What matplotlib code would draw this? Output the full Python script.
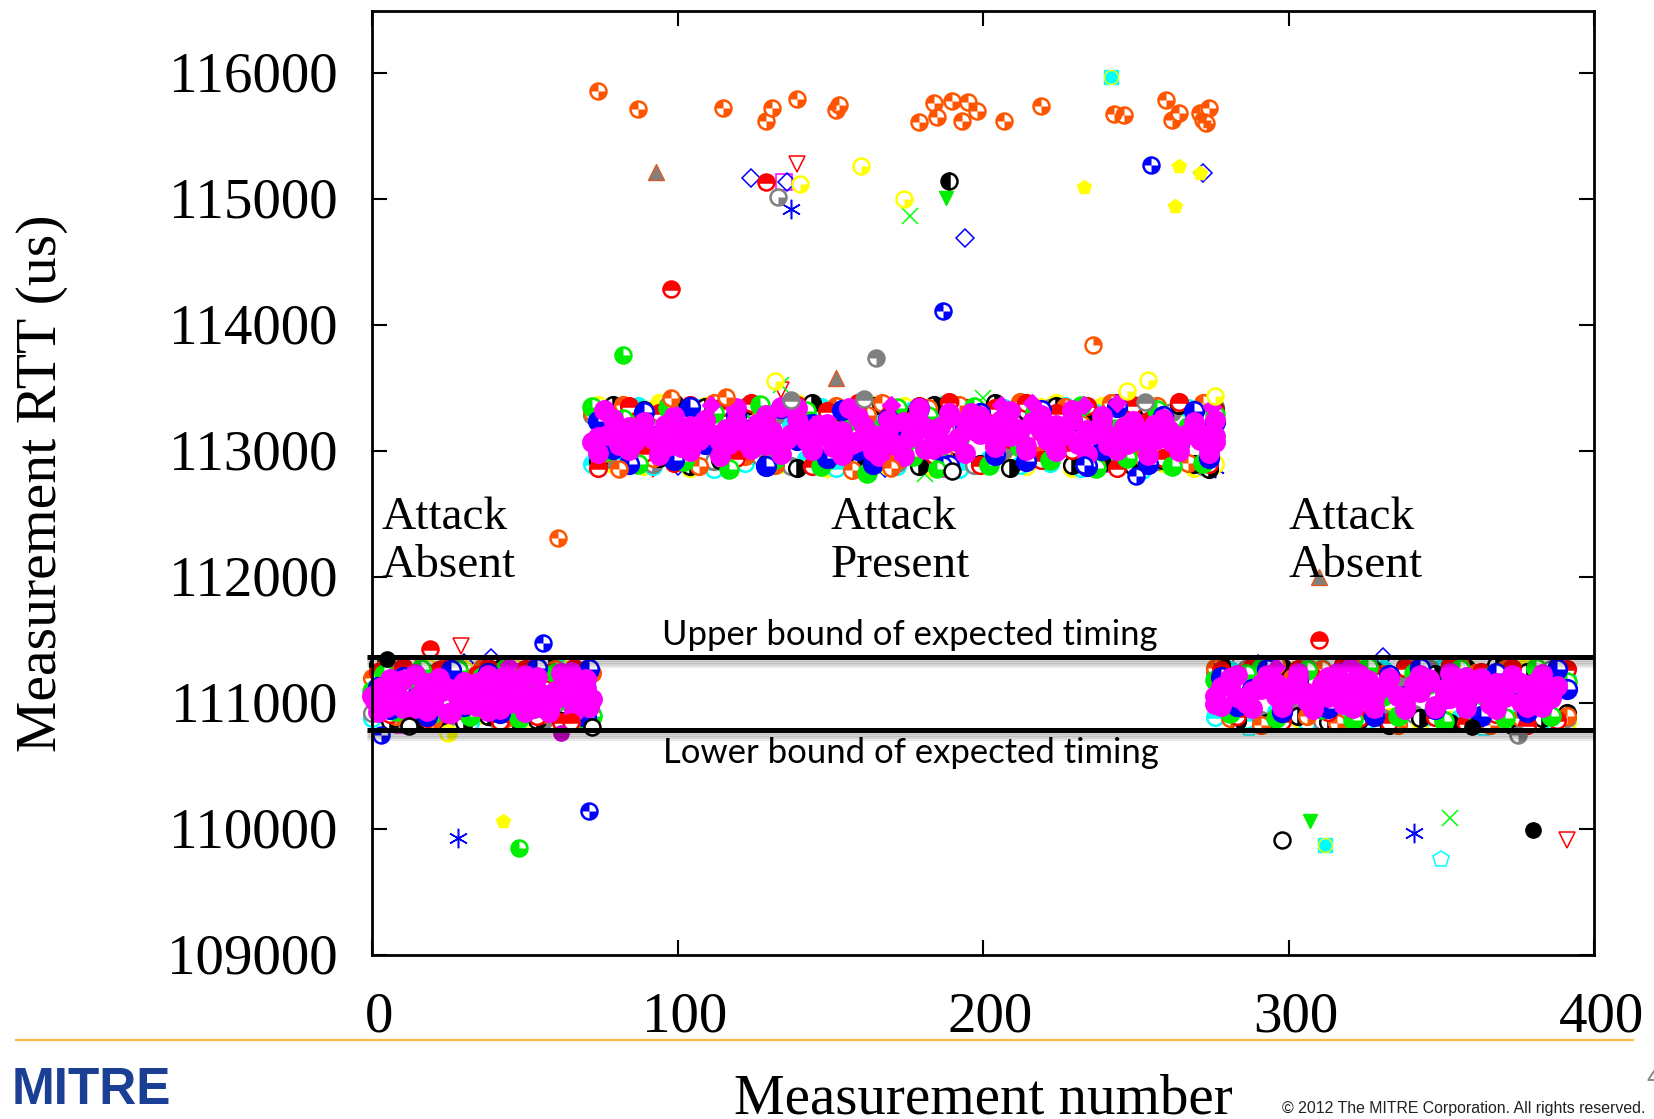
### Measurement RTT scatter, attack absent / present / absent
import matplotlib
matplotlib.use("Agg")
import matplotlib.pyplot as plt
import matplotlib.patheffects as pe
from matplotlib.path import Path
from matplotlib.transforms import ScaledTranslation

W, H = 1654, 1119

## axis labels
x_ticks = [0, 100, 200, 300, 400]
y_ticks = [109000, 110000, 111000, 112000, 113000, 114000, 115000, 116000]
upper_bound = 111368
lower_bound = 110790

## shared measurement numbers of the dense bands
x_a = [0, 4, 8, 12, 16, 20, 24, 28, 32, 36, 40, 44, 48, 52, 56, 60, 64, 68, 72,
       72, 77, 82, 87, 92, 97, 102, 107, 112, 117, 122, 127, 132, 137, 142, 147, 152, 157, 162, 167, 172,
       177, 182, 187, 192, 197, 202, 207, 212, 217, 222, 227, 232, 237, 242, 247, 252, 257, 262, 267, 272, 276,
       276, 281, 286, 291, 296, 301, 306, 311, 316, 321, 326, 331, 336, 341, 346, 351, 356, 361, 366, 371, 376, 381, 386, 391]
x_b = [2, 6, 10, 14, 18, 22, 26, 30, 34, 38, 42, 46, 50, 54, 58, 62, 66, 70, 71,
       74, 79, 84, 89, 94, 99, 104, 109, 114, 119, 124, 129, 134, 139, 144, 149, 154, 159, 164, 169, 174,
       179, 184, 189, 194, 199, 204, 209, 214, 219, 224, 229, 234, 239, 244, 249, 254, 259, 264, 269, 274, 276,
       278, 283, 288, 293, 298, 303, 308, 313, 318, 323, 328, 333, 338, 343, 348, 353, 358, 363, 368, 373, 378, 383, 388, 391]

## band values per series: left band, middle band, right band
y_yellow = [111280, 110850, 111240, 110860, 111290, 110870, 110840, 111270, 110900, 111250, 110850, 111290, 110880, 111230, 110860, 111280, 110900, 111260, 110850,
            113370, 112900, 113350, 112880, 113380, 112920, 112870, 113360, 112890, 113340, 113370, 112880, 112900, 113380, 113350, 112870, 113330, 112910, 113370, 112880, 113360,
            112900, 112870, 113380, 113340, 112890, 113370, 112920, 112880, 113350, 113380, 112870, 112900, 113360, 113340, 112880, 113370, 112910, 113350, 112870, 113380, 112900,
            111280, 110860, 111290, 110850, 111250, 110880, 111270, 110840, 111300, 110870, 111260, 110890, 111280, 110850, 111240, 110870, 111290, 110860, 111270, 110840, 111300, 110880, 111260, 110850]
y_cyan = [110880, 111250, 110920, 111290, 110860, 111200, 110900, 111270, 110850, 111180, 110940, 111280, 110870, 111240, 110890, 111300, 110860, 111210, 110910,
          112900, 113300, 112950, 113360, 112880, 113250, 112930, 113340, 112860, 113280, 112910, 113370, 112890, 113220, 112940, 113350, 112870, 113310, 112900, 113260, 112880,
          113330, 112920, 113370, 112860, 113290, 112940, 113340, 112890, 113230, 112910, 113360, 112870, 113300, 112930, 113350, 112850, 113270, 112900, 113340, 112880, 113320,
          110890, 111260, 110870, 111290, 110930, 111230, 110850, 111280, 110910, 111200, 110870, 111270, 110860, 111240, 110900, 111300, 110880, 111220, 110850, 111280, 110920, 111250, 110870, 111190]
y_gray = [110920, 111230, 110870, 111260, 110950, 111180, 110850, 111280, 110900, 111210, 110880, 111250, 110940, 111170, 110860, 111240, 110910, 111200, 110890,
          113290, 112940, 113340, 113210, 112900, 113370, 113000, 113310, 112920, 113250, 113350, 112960, 113280, 112880, 113330, 113020, 113260, 112930, 113360, 113190, 112910,
          113300, 112970, 113350, 113230, 112890, 113320, 113010, 113270, 112950, 113340, 113180, 112900, 113290, 113370, 112980, 113240, 112920, 113310, 113200, 112880, 113350,
          111240, 110900, 111270, 110870, 111190, 110930, 111290, 110860, 111220, 110950, 111260, 110880, 111170, 110910, 111280, 110870, 111230, 110940, 111250, 110850, 111200, 110900, 111270, 110880]
y_black = [111300, 110860, 111280, 110840, 111240, 110880, 111290, 110850, 111200, 110900, 111270, 110850, 111250, 110870, 111300, 110860, 111230, 110880, 110840,
           112920, 113370, 112910, 113330, 112950, 113380, 112880, 113350, 112930, 113300, 113370, 112900, 113340, 112870, 113380, 112930, 113310, 112890, 113360, 112950, 113280,
           112880, 113370, 112920, 113340, 112900, 113380, 112870, 113320, 112940, 113360, 112890, 113290, 112910, 113380, 112880, 113340, 112930, 113370, 112900, 112860, 113330,
           111300, 110860, 111270, 110840, 111290, 110900, 111240, 110850, 111300, 110870, 111260, 110830, 111290, 110880, 111230, 110840, 111280, 110860, 111300, 110830, 111250, 110880, 111290, 110920]
y_orange = [111200, 111280, 110900, 111300, 111240, 110870, 111290, 111260, 110920, 111280, 111190, 110880, 111250, 111290, 110910, 111270, 111220, 110860, 111240,
            113310, 112990, 113370, 113240, 112950, 113350, 113090, 112880, 113380, 113280, 112960, 113330, 112890, 113370, 113200, 113020, 113360, 112850, 113290, 113380, 112930,
            113250, 113340, 112980, 113370, 113160, 112900, 113320, 113390, 113040, 112940, 113350, 113220, 112890, 113380, 113270, 112960, 113360, 113130, 112910, 113380, 113300,
            111280, 110880, 111250, 110830, 111300, 111200, 110900, 111270, 110840, 111290, 110950, 111230, 110830, 111280, 111180, 110860, 111300, 111240, 110830, 111270, 110880, 111290, 111160, 110900]
y_red = [111250, 110910, 111290, 111170, 110880, 111260, 111300, 110940, 111220, 111280, 110860, 111190, 111270, 110900, 111240, 110850, 111280, 111150, 110840,
         112870, 113210, 113360, 112990, 113300, 112910, 113370, 113120, 113340, 112950, 113380, 113250, 113040, 113370, 112880, 113320, 113160, 113380, 112920, 113280, 113060,
         113360, 112970, 113390, 113220, 112890, 113340, 113100, 113380, 112930, 113300, 113010, 113360, 113190, 112870, 113370, 113240, 112950, 113390, 113130, 112900, 113320,
         111260, 110900, 111290, 111150, 110860, 111270, 111210, 110930, 111300, 110880, 111240, 110850, 111280, 111170, 110890, 111300, 110840, 111250, 110910, 111280, 110830, 111200, 110870, 111270]
y_green = [111100, 111230, 110940, 111190, 111270, 110920, 111140, 111260, 110900, 111210, 111050, 111280, 110880, 111170, 110960, 111240, 111020, 110870, 110900,
           113350, 113000, 113260, 112900, 113170, 113340, 112920, 113080, 113300, 112860, 113210, 113370, 112940, 113120, 113320, 112880, 113040, 113250, 112830, 113180, 113340,
           112960, 113280, 112910, 113100, 113350, 112890, 113220, 113030, 113310, 112930, 113150, 113360, 112870, 113260, 112950, 113070, 113330, 112880, 113190, 112910, 113290,
           111180, 110920, 111230, 111280, 110880, 111130, 111260, 110950, 111200, 110870, 111290, 111060, 110900, 111240, 111150, 110860, 111270, 110940, 111210, 110880, 111110, 111280, 110900, 111170]
y_blue = [111130, 110950, 111210, 111040, 110900, 111170, 111260, 110980, 111080, 111240, 110920, 111160, 111020, 111280, 110950, 111120, 111220, 110890, 111270,
          113240, 113020, 112900, 113310, 113130, 112930, 113350, 113060, 112990, 113280, 113180, 112880, 113340, 113090, 113220, 112950, 113330, 113010, 112900, 113260, 113120,
          113340, 113040, 112890, 113210, 113300, 112970, 113150, 112920, 113330, 113080, 113240, 112880, 113010, 113350, 113170, 112900, 113280, 113060, 113320, 112950, 113230,
          111210, 110980, 111110, 111270, 110930, 111190, 111040, 110960, 111240, 111130, 110900, 111220, 111060, 111280, 110950, 111160, 111010, 110900, 111240, 111090, 110930, 111200, 111270, 111110]

## magenta is the top series, nearly continuous
x_magenta = [1, 3, 5, 8, 10, 13, 15, 18, 20, 23, 25, 28, 30, 33, 35, 38, 40, 43, 45, 48, 50, 53, 55, 58, 60, 63, 65, 68, 70, 71,
             74, 76, 79, 81, 84, 86, 89, 91, 94, 96, 99, 101, 104, 106, 109, 111, 114, 116, 119, 121, 124, 126, 129, 131, 134, 136, 139, 141, 144, 146,
             149, 151, 154, 156, 159, 161, 164, 166, 169, 171, 174, 176, 179, 181, 184, 186, 189, 191, 194, 196, 199, 201, 204, 206, 209, 211, 214, 216,
             219, 221, 224, 226, 229, 231, 234, 236, 239, 241, 244, 246, 249, 251, 254, 256, 259, 261, 264, 266, 269, 271, 274, 276,
             276, 278, 281, 283, 286, 288, 291, 293, 296, 298, 301, 303, 306, 308, 311, 313, 316, 318, 321, 323, 326, 328, 331, 333,
             336, 338, 341, 343, 346, 348, 351, 353, 356, 358, 361, 363, 366, 368, 371, 373, 376, 378, 381, 383, 386, 388]
y_magenta = [111020, 111130, 110970, 111090, 111180, 110950, 111060, 111160, 111010, 111100, 110920, 111120, 110990, 111050, 111170, 110940, 111070, 111210, 111000, 111140, 111220, 110960, 111080, 110930, 111030, 111180, 111250, 111010, 111120, 110980,
             113110, 113330, 113140, 113050, 113190, 113080, 113170, 113120, 113060, 113210, 113150, 113030, 113200, 113100, 113250, 113140, 113070, 113180, 113340, 113090, 113130, 113220, 113050, 113160, 113350, 113100, 113340, 113180, 113060, 113210,
             113120, 113030, 113160, 113340, 113080, 113200, 113130, 112960, 113170, 113060, 113230, 113110, 113340, 113020, 113150, 113190, 113270, 113080, 113240, 113300, 113140, 113200, 113060, 113250, 113120, 113180, 113040, 113230,
             113160, 113090, 113210, 113120, 113330, 113060, 113170, 113140, 113230, 113050, 113120, 113190, 113080, 113150, 113060, 113210, 113110, 113170, 113060, 113130, 113200, 113090, 113140, 113070,
             110990, 111130, 111200, 111050, 111000, 111100, 111150, 111220, 111060, 111010, 111140, 111210, 111080, 110990, 111150, 111050, 111240, 111120, 110960, 111090, 111180, 111030, 111130, 111200,
             111060, 110990, 111150, 111090, 111190, 110960, 111110, 111040, 111170, 111210, 111080, 111120, 110990, 111160, 111050, 111190, 111010, 111110, 111170, 110970, 111090, 111140]
y_magenta_core = [111060, 110990, 111110, 111020, 111080, 110980, 111130, 111040, 110990, 111090, 111030, 111120, 111000, 111060, 110980, 111100, 111040, 111120, 111030,
                  113070, 113130, 113060, 113150, 113100, 113040, 113170, 113090, 113130, 113060, 113160, 113100, 113050, 113140, 113090, 113170, 113120, 113060, 113150, 113080, 113040,
                  113130, 113180, 113060, 113110, 113170, 113200, 113120, 113170, 113220, 113100, 113150, 113080, 113170, 113120, 113060, 113150, 113100, 113070, 113140, 113090, 113120,
                  111060, 111140, 111030, 111110, 111160, 111070, 111020, 111120, 111090, 111170, 111040, 111130, 111060, 111100, 111170, 111030, 111090, 111140, 111050, 111120, 111160, 111080, 111040]
y_magenta_wide = [110930, 111190, 110960, 111230, 110940, 111200, 110920, 111170, 110980, 111220, 110950, 111180, 110930, 111210, 110960, 111240, 110940, 111190, 110970,
                  112990, 113260, 113010, 113230, 112970, 113280, 113000, 113250, 112960, 113240, 113020, 113290, 112980, 113260, 113010, 113220, 112970, 113270, 113000, 113250, 112960,
                  113230, 113020, 113300, 112990, 113280, 113030, 113320, 113010, 113290, 113000, 113250, 112980, 113280, 113010, 113240, 112970, 113260, 113000, 113230, 112990, 113250,
                  110980, 111220, 110960, 111200, 110970, 111240, 110950, 111210, 110990, 111230, 110960, 111190, 110950, 111220, 110980, 111240, 110960, 111200, 110950, 111220, 110970, 111230]
x_magenta_diamond = [111, 135, 170, 206, 216, 233, 244, 275, 320, 296, 45]
y_magenta_diamond = [113370, 113360, 113370, 113370, 113380, 113370, 113380, 113350, 111310, 111290, 111300]

## outliers, one pair of lists per marker type
x_orange_check = [74, 87, 115, 129, 131, 139, 152, 153, 179, 184, 185, 190, 193, 195, 198, 207, 219, 243, 246, 260, 262, 264, 271, 272, 274, 273, 61, 98, 116, 81, 170]
y_orange_check = [115858, 115715, 115724, 115623, 115724, 115799, 115707, 115749, 115615, 115766, 115657, 115782, 115623, 115774, 115699, 115623, 115741, 115682, 115674, 115791, 115632, 115690, 115690, 115632, 115724, 115607, 112310, 113420, 113430, 112860, 112870]
x_orange_quarter = [236]
y_orange_quarter = [113840]
x_tri_gray = [93, 152, 310]
y_tri_gray = [115220, 113580, 112000]
x_diamond = [124, 136, 194, 272, 331, 39, 168, 100, 30, 252, 364, 345, 290, 60]
y_diamond = [115170, 115140, 114690, 115210, 111370, 111355, 112870, 112880, 111320, 112840, 110870, 110890, 111310, 110880]
x_red_half = [129, 98, 19, 310, 65]
y_red_half = [115140, 114285, 111430, 111500, 110850]
x_red_tri = [139, 134, 391, 29, 92, 200, 280]
y_red_tri = [115280, 113490, 109910, 111450, 112860, 112890, 111300]
x_yellow_quarter = [140, 160, 174, 132, 254, 247, 276]
y_yellow_quarter = [115120, 115265, 115000, 113560, 113565, 113480, 113440]
x_yellow_half = [25]
y_yellow_half = [110760]
x_yellow_pent = [233, 264, 263, 43, 271]
y_yellow_pent = [115095, 115265, 114945, 110067, 115210]
x_gray_ring = [133]
y_gray_ring = [115020]
x_gray_solid = [165, 375]
y_gray_solid = [113740, 110745]
x_gray_half = [137, 161, 253]
y_gray_half = [113405, 113415, 113390]
x_star = [137, 28, 341, 276]
y_star = [114920, 109930, 109965, 112870]
x_black_half = [189]
y_black_half = [115150]
x_green_tri = [188, 307]
y_green_tri = [115010, 110067]
x_green_x = [176, 353, 134, 181, 200, 372, 385]
y_green_x = [114870, 110085, 113530, 112820, 113420, 110860, 110850]
x_blue_check = [255, 187, 71, 56, 3, 187, 233, 250]
y_blue_check = [115270, 114115, 110140, 111475, 110750, 112890, 112890, 112800]
x_green_check = [82, 48, 185]
y_green_check = [113765, 109850, 112860]
x_cyan_square = [242, 312]
y_cyan_square = [115975, 109875]
x_black_ring = [298, 72, 12, 190]
y_black_ring = [109910, 110810, 110820, 112840]
x_black_dot = [380, 5, 360]
y_black_dot = [109990, 111350, 110810]
x_cyan_pent = [350, 287, 364]
y_cyan_pent = [109765, 110800, 110800]
x_magenta_dot = [62]
y_magenta_dot = [110760]
x_magenta_square = [88, 135, 30, 10, 315, 288, 188, 240]
y_magenta_square = [112900, 115140, 111250, 110830, 111300, 111290, 112860, 112900]


def draw(x, y, color, kind, z, size=11.5):
    opts = dict(ls="none", clip_on=False, zorder=z)
    if kind == "ring":
        ax.plot(x, y, marker="o", ms=size, mfc="white", mec=color, mew=1.8, **opts)
    elif kind == "solid":
        ax.plot(x, y, marker="o", ms=size, mfc=color, mec=color, mew=1, **opts)
    elif kind in ("top", "bottom", "left", "right"):
        ax.plot(x, y, marker="o", ms=size, fillstyle=kind, mfc=color, markerfacecoloralt="white",
                mec=color, mew=1.8, **opts)
    elif kind == "check":
        # ring with two opposite quarters filled
        ax.plot(x, y, marker="o", ms=size, mfc="white", mec=color, mew=1.8, **opts)
        ax.plot(x, y, marker=Path.wedge(90, 180), ms=size, mfc=color, mew=0, **opts)
        ax.plot(x, y, marker=Path.wedge(270, 360), ms=size, mfc=color, mew=0, **opts)
    elif kind == "quarter_lr":
        ax.plot(x, y, marker="o", ms=size, mfc="white", mec=color, mew=1.8, **opts)
        ax.plot(x, y, marker=Path.wedge(270, 360), ms=size, mfc=color, mew=0, **opts)
    elif kind == "quarter_ur":
        ax.plot(x, y, marker="o", ms=size, mfc="white", mec=color, mew=1.8, **opts)
        ax.plot(x, y, marker=Path.wedge(0, 90), ms=size, mfc=color, mew=0, **opts)
    elif kind == "three":
        # mostly filled, one quarter white
        ax.plot(x, y, marker="o", ms=size, mfc=color, mec=color, mew=1.8, **opts)
        ax.plot(x, y, marker=Path.wedge(0, 90), ms=size - 2, mfc="white", mew=0, **opts)
    elif kind == "three_ll":
        ax.plot(x, y, marker="o", ms=size, mfc=color, mec=color, mew=1.8, **opts)
        ax.plot(x, y, marker=Path.wedge(180, 270), ms=size - 2, mfc="white", mew=0, **opts)
    else:
        ax.plot(x, y, marker=kind, ms=size, mfc="none", mec=color, mew=1.1, **opts)


def fig_text(px, py, s, **kw):
    fig.text(px / W, 1 - py / H, s, **kw)


fig = plt.figure(figsize=(W / 100, H / 100), dpi=100)
ax = fig.add_axes([372 / W, 1 - 955 / H, (1594 - 372) / W, (955 - 10.5) / H])

## hollow symbols first, they sit at the edges of the bands
draw(x_magenta_square, y_magenta_square, "#ff00ff", "s", 2, 11)
draw(x_diamond, y_diamond, "#0000ff", "D", 2, 9)
draw(x_red_tri, y_red_tri, "#ff0000", "v", 2, 11)
draw(x_cyan_pent, y_cyan_pent, "#00ffff", "p", 2, 12)
draw(x_green_x, y_green_x, "#00ff00", "x", 2, 12)
draw(x_star, y_star, "#0000ff", (6, 2, 0), 2, 14)

draw(x_b, y_yellow, "#ffff00", "left", 3, 12)
draw(x_a, y_cyan, "#00ffff", "top", 4, 12)
draw(x_a, y_gray, "#808080", "right", 5, 12)
draw(x_b, y_black, "#000000", "right", 6, 12)
draw(x_a, y_orange, "#ff5500", "check", 7, 12)
draw(x_b, y_red, "#ff0000", "top", 8, 12)
draw(x_a, y_green, "#00ee00", "three", 9, 13)
draw(x_b, y_blue, "#0000ff", "three", 10, 13.5)
ax.plot(x_magenta_diamond, y_magenta_diamond, ls="none", marker="D", ms=9.5, mfc="#ff00ff", mec="#ff00ff", clip_on=False, zorder=10)
draw(x_magenta, y_magenta, "#ff00ff", "solid", 11, 14)
draw(x_a[:-1], y_magenta_core, "#ff00ff", "solid", 11, 14)
draw(x_b[:-2], y_magenta_wide, "#ff00ff", "solid", 11, 14)

## outliers
draw(x_orange_check, y_orange_check, "#ff5500", "check", 12)
draw(x_orange_quarter, y_orange_quarter, "#ff5500", "quarter_ur", 12)
draw(x_red_half, y_red_half, "#ff0000", "top", 12)
draw(x_yellow_quarter, y_yellow_quarter, "#ffff00", "quarter_lr", 12)
draw(x_yellow_half, y_yellow_half, "#ffff00", "right", 12)
draw(x_gray_ring, y_gray_ring, "#808080", "quarter_lr", 12)
draw(x_gray_solid, y_gray_solid, "#808080", "three_ll", 12)
draw(x_gray_half, y_gray_half, "#808080", "top", 12)
draw(x_black_half, y_black_half, "#000000", "left", 12)
draw(x_blue_check, y_blue_check, "#0000ff", "check", 12)
draw(x_green_check, y_green_check, "#00ee00", "three", 12)
draw(x_black_ring, y_black_ring, "#000000", "ring", 12)
draw(x_black_dot, y_black_dot, "#000000", "solid", 12, 11)
draw(x_magenta_dot, y_magenta_dot, "#cc00cc", "solid", 12, 11)
ax.plot(x_tri_gray, y_tri_gray, ls="none", marker="^", ms=11, mfc="#808080", mec="#e05a20", mew=1, clip_on=False, zorder=12)
ax.plot(x_yellow_pent, y_yellow_pent, ls="none", marker="p", ms=10.5, mfc="#ffff00", mec="#ffff00", clip_on=False, zorder=12)
ax.plot(x_green_tri, y_green_tri, ls="none", marker="v", ms=10, mfc="#00ee00", mec="#00ee00", clip_on=False, zorder=12)
ax.plot(x_cyan_square, y_cyan_square, ls="none", marker="s", ms=10.5, mfc="#00ffff", mec="#00ffff", clip_on=False, zorder=12)
ax.plot(x_cyan_square, y_cyan_square, ls="none", marker="o", ms=10, mfc="none", mec="#ffff00", mew=1, clip_on=False, zorder=13)

## bound lines with the slide shadow
shadow = [pe.SimpleLineShadow(offset=(0, -k), shadow_color="black", alpha=0.09, rho=1) for k in (1.5, 3, 4.5, 6)]
for b in (upper_bound, lower_bound):
    ax.plot([-1.7, 400], [b, b], color="black", lw=3.6, clip_on=False, zorder=20, solid_capstyle="butt",
            path_effects=shadow + [pe.Normal()])

ax.set_xlim(0, 400)
ax.set_ylim(109000, 116500)
ax.set_xticks(x_ticks)
ax.set_yticks(y_ticks)
ax.tick_params(direction="in", top=True, right=True, length=11, width=1.5, labelsize=41, pad=26)
ax.tick_params(axis="y", pad=25)
for lab in ax.get_xticklabels() + ax.get_yticklabels():
    lab.set_family("Liberation Serif")
for lab in ax.get_xticklabels():
    lab.set_transform(lab.get_transform() + ScaledTranslation(7.5 / 100, 0, fig.dpi_scale_trans))
for lab in ax.get_yticklabels():
    lab.set_transform(lab.get_transform() + ScaledTranslation(0, 2 / 100, fig.dpi_scale_trans))
for s in ax.spines.values():
    s.set_linewidth(2)
    s.set_zorder(30)

serif = dict(family="Liberation Serif", color="black", zorder=25)
for x0, word in [(3.2, "Absent"), (150, "Present"), (300, "Absent")]:
    ax.text(x0, 112385, "Attack", fontsize=34, va="baseline", **serif)
    ax.text(x0, 112000, word, fontsize=34, va="baseline", **serif)

ax.text(176, 111465, "Upper bound of expected timing", family="Lato", fontsize=24.9, ha="center", va="baseline", zorder=25)
ax.text(176.3, 110527, "Lower bound of expected timing", family="Lato", fontsize=24.9, ha="center", va="baseline", zorder=25)

## slide furniture
fig_text(42, 483, "Measurement RTT (us)", family="Liberation Serif", fontsize=41.6, rotation=90, ha="center", va="center")
fig_text(983, 1114, "Measurement number", family="Liberation Serif", fontsize=41, ha="center", va="baseline")
fig.add_artist(plt.Line2D([16 / W, 1633 / W], [1 - 1040 / H] * 2, color="#fdb94d", lw=1.6))
fig_text(12, 1104, "MITRE", family="Liberation Sans", weight="bold", fontsize=37, color="#1b3f94", va="baseline")
fig_text(1282, 1113, "© 2012 The MITRE Corporation. All rights reserved.", family="Liberation Sans", fontsize=11.4, va="baseline", color="#222222")
fig_text(1646, 1085, "4", family="Liberation Sans", fontsize=20, color="#888888", va="baseline")

fig.savefig("out.png", dpi=100)
